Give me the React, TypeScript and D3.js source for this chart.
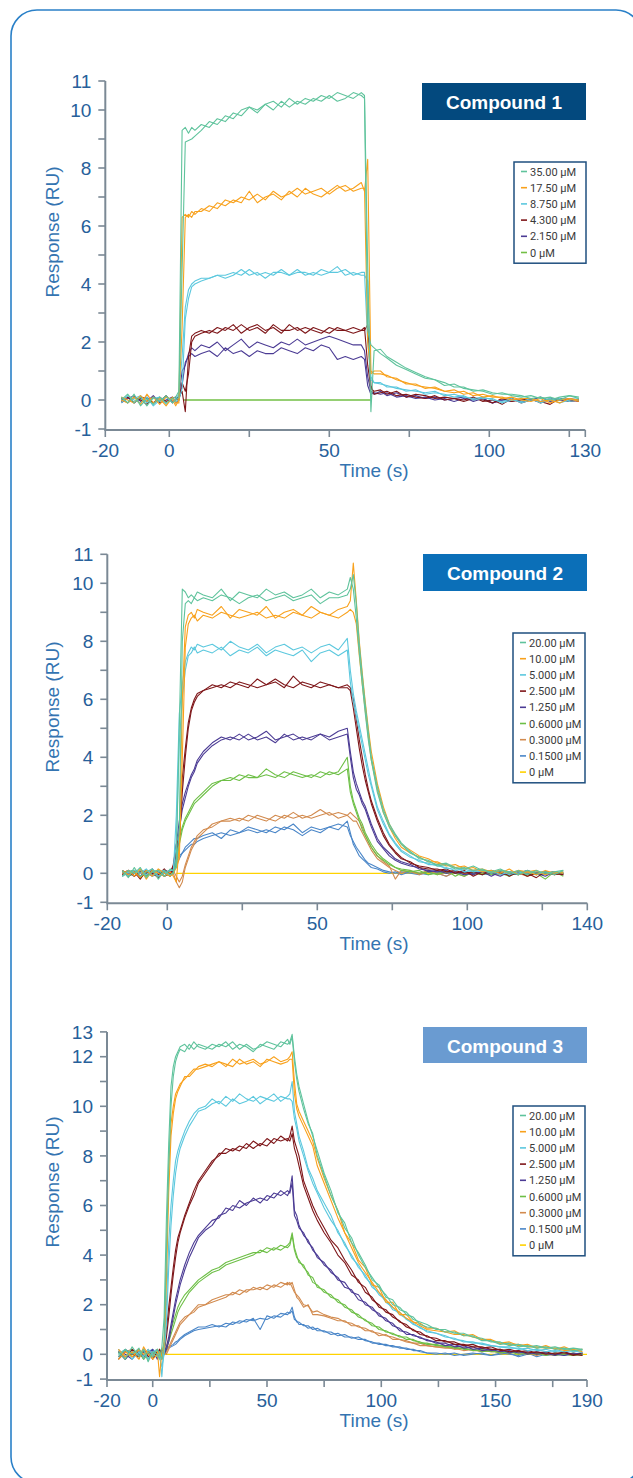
import React from "react";
import * as d3 from "d3";

// ---------- Compound 1 ----------
const time1 = [
  -15, -13, -11, -9, -7, -5, -3, -1, 1, 2,
  3, 4, 5, 6, 7, 8,
  10, 12.5, 15, 17.5, 20, 22.5, 25, 27.5, 30, 32.5, 35, 37.5, 40, 42.5, 45, 47.5, 50, 52.5, 55, 57.5, 60,
  61, 62, 63, 64,
  66, 68, 71, 74, 77, 80, 83, 86, 89, 92, 95, 98, 101, 104, 107, 110, 113, 116, 119, 122, 125, 128,
];
const resp1_35a = [
  0.1, -0.1, 0.2, -0.2, 0.05, -0.15, 0.1, -0.1, 0.05, 0.1,
  0.3, 9.3, 9.4, 9.2, 9.4, 9.3,
  9.5, 9.4, 9.7, 9.6, 9.9, 9.8, 10.1, 9.9, 10.2, 10.0, 10.3, 10.1, 10.3, 10.2, 10.4, 10.3, 10.5, 10.3, 10.4, 10.6, 10.5,
  10.4, 2.4, 1.9, 1.8,
  1.6, 1.45, 1.2, 1.05, 0.9, 0.75, 0.7, 0.5, 0.55, 0.4, 0.35, 0.3, 0.2, 0.25, 0.15, 0.1, 0.15, 0.05, 0.1, 0.0, 0.15, 0.05,
];
const resp1_35b = [
  0.0, 0.2, -0.1, 0.1, -0.2, 0.1, -0.05, 0.15, -0.1, 0.0,
  0.1, 4.5, 8.9, 8.95, 9.0, 9.1,
  9.3, 9.6, 9.5, 9.8, 9.7, 10.0, 10.1, 10.0, 10.2, 10.3, 10.1, 10.4, 10.2, 10.4, 10.3, 10.5, 10.4, 10.6, 10.5, 10.4, 10.6,
  10.5, 4.6, -0.4, 1.7,
  1.75, 1.5, 1.3, 1.1, 0.95, 0.8, 0.7, 0.6, 0.45, 0.45, 0.3, 0.35, 0.25, 0.2, 0.2, 0.15, 0.05, 0.1, 0.0, 0.1, 0.15, 0.1,
];
const resp1_17a = [
  0.0, -0.1, 0.1, -0.15, 0.2, -0.1, 0.05, -0.2, 0.1, -0.1,
  -0.1, 6.3, 6.4, 6.3, 6.5, 6.4,
  6.6, 6.5, 6.8, 6.7, 6.9, 6.8, 7.2, 6.8, 7.0, 7.1, 6.9, 7.2, 7.0, 7.3, 7.1, 7.0, 7.2, 7.4, 7.2, 7.3, 7.5,
  7.2, 8.3, 1.0, 0.9,
  0.9, 0.85, 0.7, 0.6, 0.5, 0.45, 0.4, 0.3, 0.35, 0.2, 0.25, 0.1, 0.15, 0.05, 0.1, 0.0, -0.05, 0.05, -0.1, 0.0, 0.05, -0.05,
];
const resp1_17b = [
  0.1, 0.0, -0.1, 0.15, -0.05, 0.1, -0.15, 0.1, 0.0, -0.2,
  0.0, 2.5, 6.3, 6.4, 6.3, 6.5,
  6.5, 6.7, 6.6, 6.9, 6.8, 7.0, 6.9, 7.1, 6.9, 7.2, 7.0, 7.1, 7.3, 7.1, 7.2, 7.3, 7.1, 7.3, 7.4, 7.2, 7.3,
  7.3, 2.0, 0.9, 1.0,
  1.0, 0.8, 0.75, 0.55, 0.55, 0.4, 0.45, 0.3, 0.25, 0.3, 0.15, 0.2, 0.1, 0.1, 0.0, 0.05, 0.05, -0.05, 0.0, -0.1, 0.05, 0.0,
];
const resp1_8a = [
  -0.1, 0.15, 0.0, -0.1, 0.1, -0.2, 0.0, 0.1, -0.1, 0.05,
  0.2, 1.5, 3.2, 3.8, 4.0, 4.1,
  4.2, 4.2, 4.3, 4.3, 4.4, 4.3, 4.5, 4.3, 4.4, 4.3, 4.5, 4.3, 4.4, 4.4, 4.3, 4.5, 4.4, 4.4, 4.5, 4.3, 4.4,
  4.4, 2.0, 0.7, 0.6,
  0.55, 0.5, 0.4, 0.35, 0.3, 0.25, 0.3, 0.15, 0.2, 0.1, 0.05, 0.1, 0.0, -0.05, 0.05, -0.1, 0.0, -0.05, 0.05, -0.1, 0.0, 0.05,
];
const resp1_8b = [
  0.1, -0.1, 0.05, 0.15, -0.1, 0.05, 0.1, -0.15, 0.05, -0.05,
  0.0, 0.4, 2.8, 3.5, 3.9, 4.0,
  4.1, 4.2, 4.3, 4.2, 4.3, 4.5, 4.3, 4.4, 4.2, 4.4, 4.4, 4.3, 4.5, 4.3, 4.4, 4.3, 4.4, 4.6, 4.3, 4.4, 4.3,
  4.3, 4.1, 0.8, 0.6,
  0.6, 0.45, 0.45, 0.3, 0.35, 0.2, 0.25, 0.2, 0.1, 0.15, 0.0, 0.05, 0.05, -0.1, 0.0, -0.05, 0.05, -0.1, 0.0, 0.05, -0.05, 0.0,
];
const resp1_4a = [
  0.05, -0.1, 0.1, 0.0, -0.15, 0.1, -0.05, 0.15, -0.1, 0.0,
  0.1, 0.3, -0.4, 1.5, 2.2, 2.3,
  2.4, 2.3, 2.5, 2.4, 2.6, 2.3, 2.5, 2.6, 2.4, 2.5, 2.3, 2.6, 2.4, 2.5, 2.4, 2.3, 2.5, 2.4, 2.4, 2.5, 2.4,
  2.5, 1.2, 0.4, 0.3,
  0.35, 0.2, 0.3, 0.1, 0.2, 0.15, 0.05, 0.1, 0.05, 0.0, 0.1, -0.05, 0.0, -0.15, 0.05, -0.1, 0.0, -0.05, -0.15, 0.05, -0.05, 0.0,
];
const resp1_4b = [
  -0.05, 0.1, -0.1, 0.1, 0.05, -0.1, 0.1, -0.05, 0.05, 0.1,
  0.0, 0.6, 0.3, 0.9, 2.0, 2.2,
  2.3, 2.4, 2.3, 2.5, 2.4, 2.6, 2.4, 2.5, 2.3, 2.6, 2.4, 2.4, 2.5, 2.3, 2.5, 2.4, 2.3, 2.5, 2.4, 2.3, 2.4,
  2.4, 2.6, 0.5, 0.2,
  0.25, 0.3, 0.15, 0.2, 0.1, 0.05, 0.15, 0.0, 0.05, -0.05, 0.05, 0.0, -0.1, 0.05, -0.05, 0.0, 0.05, -0.1, 0.0, 0.05, 0.0, -0.05,
];
const resp1_2a = [
  -0.1, 0.05, 0.15, -0.05, 0.1, -0.1, 0.0, 0.1, -0.05, 0.05,
  0.1, 1.0, 1.2, 1.6, 1.8, 1.7,
  1.9, 1.8, 2.0, 1.7, 1.9, 2.1, 1.8, 2.0, 1.9, 1.8, 2.0, 1.9, 2.1, 1.9, 2.0, 2.1, 2.2, 2.1, 2.0, 1.9, 1.9,
  1.7, 0.8, 0.3, 0.2,
  0.3, 0.15, 0.25, 0.1, 0.15, 0.05, 0.1, 0.0, 0.05, 0.1, -0.05, 0.05, -0.1, 0.0, 0.05, -0.05, 0.0, 0.1, -0.05, 0.0, 0.05, 0.0,
];
const resp1_2b = [
  0.0, 0.1, -0.1, 0.05, -0.05, 0.15, -0.1, 0.0, 0.1, -0.1,
  0.0, 0.5, 1.3, 1.5, 1.6, 1.5,
  1.6, 1.7, 1.5, 1.8, 1.6, 1.7, 1.5, 1.7, 1.6, 1.6, 1.8, 1.7, 1.6, 1.8, 1.7, 1.9, 1.8, 1.4, 1.5, 1.4, 1.5,
  1.4, 0.5, 0.2, 0.25,
  0.2, 0.25, 0.1, 0.15, 0.05, 0.1, 0.0, 0.05, -0.05, 0.05, 0.0, 0.05, -0.1, 0.0, -0.05, 0.05, 0.0, -0.05, 0.05, 0.0, -0.05, 0.0,
];
const zeroTime1 = [4.5, 63];

// ---------- Compound 2 ----------
const time2 = [
  -15, -13, -11, -9, -7, -5, -3, -1, 1,
  2, 3, 4, 5, 6, 7, 8, 9, 10,
  12, 15, 18, 21, 24, 27, 30, 33, 36, 39, 42, 45, 48, 51, 54, 57, 60,
  61, 62, 63, 64, 65, 66, 67, 68,
  70, 72, 74, 76, 78,
  81, 84, 87, 90, 93, 96, 99, 102, 105, 108, 111, 114, 117, 120, 123, 126, 129, 132,
];
const resp2_20a = [
  0.1, -0.15, 0.2, -0.1, 0.05, 0.15, -0.2, 0.1, -0.05,
  0.0, 0.5, 5.0, 9.8, 9.7, 9.5, 9.6, 9.5, 9.7,
  9.6, 9.5, 9.8, 9.4, 9.7, 9.6, 9.5, 9.8, 9.6, 9.7, 9.5, 9.6, 9.8, 9.5, 9.7, 9.6, 9.8,
  10.2, 9.8, 8.8, 7.6, 6.5, 5.5, 4.6, 3.9,
  2.8, 2.1, 1.6, 1.3, 1.0,
  0.7, 0.55, 0.4, 0.3, 0.35, 0.2, 0.15, 0.25, 0.1, 0.05, 0.15, 0.0, 0.1, -0.05, 0.1, 0.0, 0.05, 0.1,
];
const resp2_20b = [
  -0.1, 0.1, 0.0, 0.2, -0.15, 0.05, 0.1, -0.1, 0.15,
  0.1, 0.2, 1.5, 8.0, 9.3, 9.4, 9.3, 9.5, 9.4,
  9.5, 9.4, 9.6, 9.5, 9.3, 9.5, 9.6, 9.4, 9.5, 9.6, 9.4, 9.5, 9.6, 9.3, 9.5, 9.5, 9.6,
  9.8, 10.3, 9.3, 7.9, 6.8, 5.8, 4.9, 4.0,
  3.0, 2.2, 1.7, 1.35, 1.05,
  0.75, 0.5, 0.45, 0.25, 0.3, 0.15, 0.2, 0.1, 0.15, 0.0, 0.1, 0.05, -0.05, 0.1, 0.0, 0.05, -0.05, 0.1,
];
const resp2_10a = [
  0.0, 0.1, -0.1, 0.15, -0.2, 0.1, 0.0, -0.1, 0.05,
  -0.1, -0.3, 1.0, 6.0, 8.5, 8.9, 9.0, 8.8, 9.1,
  9.0, 8.9, 9.2, 8.8, 9.1, 9.0, 8.9, 9.2, 8.8, 9.0, 9.1, 8.9, 9.2, 9.0, 8.9, 9.1, 9.2,
  9.4, 10.7, 9.4, 8.0, 6.9, 5.9, 5.0, 4.2,
  3.1, 2.3, 1.7, 1.3, 1.0,
  0.8, 0.6, 0.5, 0.35, 0.3, 0.2, 0.25, 0.1, 0.15, 0.05, 0.1, 0.0, 0.1, 0.05, -0.05, 0.1, 0.0, 0.05,
];
const resp2_10b = [
  0.1, -0.05, 0.05, -0.15, 0.1, -0.1, 0.15, 0.0, -0.1,
  0.0, 0.2, 0.5, 4.0, 7.8, 8.6, 8.8, 8.9, 8.7,
  8.9, 8.8, 9.0, 8.9, 8.8, 8.9, 9.0, 8.8, 8.9, 8.8, 9.0, 8.9, 8.8, 9.0, 8.9, 8.8, 9.0,
  9.1, 9.0, 8.6, 7.5, 6.5, 5.6, 4.7, 3.9,
  2.9, 2.1, 1.6, 1.2, 0.9,
  0.7, 0.55, 0.4, 0.4, 0.25, 0.3, 0.15, 0.2, 0.05, 0.1, 0.0, 0.15, -0.05, 0.05, 0.1, -0.05, 0.05, 0.0,
];
const resp2_5a = [
  0.05, -0.1, 0.1, 0.0, 0.15, -0.1, 0.05, 0.1, -0.1,
  0.0, 2.0, 5.5, 6.5, 7.3, 7.6, 7.8, 7.7, 7.9,
  7.8, 7.9, 7.7, 8.0, 7.8, 7.7, 7.9, 7.6, 7.8, 7.9, 7.7, 7.8, 7.6, 7.8, 7.9, 7.7, 8.1,
  7.0, 6.2, 5.6, 5.1, 4.6, 4.1, 3.6, 3.1,
  2.3, 1.8, 1.35, 1.05, 0.8,
  0.6, 0.4, 0.35, 0.25, 0.2, 0.1, 0.15, 0.05, 0.1, 0.0, 0.1, -0.05, 0.05, 0.0, 0.1, -0.05, 0.05, 0.0,
];
const resp2_5b = [
  -0.1, 0.05, 0.0, 0.1, -0.05, 0.15, -0.1, 0.0, 0.1,
  0.1, 1.0, 4.5, 6.0, 7.0, 7.5, 7.6, 7.8, 7.6,
  7.7, 7.6, 7.8, 7.5, 7.7, 7.6, 7.8, 7.5, 7.7, 7.6, 7.5, 7.7, 7.3, 7.6, 7.7, 7.5, 7.7,
  6.6, 5.9, 5.4, 4.9, 4.4, 3.9, 3.4, 3.0,
  2.2, 1.7, 1.3, 1.0, 0.75,
  0.55, 0.45, 0.3, 0.3, 0.15, 0.2, 0.05, 0.1, 0.05, 0.1, -0.05, 0.05, 0.0, 0.1, -0.05, 0.05, 0.0, 0.05,
];
const resp2_2a = [
  0.1, -0.1, 0.05, -0.2, 0.1, 0.0, -0.15, 0.1, 0.0,
  0.3, 1.0, 1.2, 3.3, 4.3, 5.2, 5.7, 6.0, 6.2,
  6.3, 6.5, 6.4, 6.6, 6.5, 6.4, 6.7, 6.5, 6.6, 6.4, 6.8, 6.5, 6.4, 6.6, 6.5, 6.4, 6.5,
  6.4, 6.0, 5.3, 4.6, 4.0, 3.4, 2.9, 2.5,
  1.9, 1.4, 1.0, 0.75, 0.55,
  0.35, 0.25, 0.2, 0.1, 0.15, 0.0, 0.1, -0.1, 0.05, 0.0, 0.1, -0.1, 0.05, 0.0, -0.15, 0.05, 0.0, -0.05,
];
const resp2_2b = [
  -0.05, 0.1, -0.1, 0.05, 0.0, 0.1, -0.05, 0.15, -0.1,
  0.2, 0.8, 1.1, 2.8, 4.0, 5.0, 5.6, 5.9, 6.1,
  6.3, 6.4, 6.5, 6.4, 6.6, 6.5, 6.4, 6.5, 6.7, 6.5, 6.4, 6.6, 6.5, 6.4, 6.5, 6.4, 6.4,
  6.3, 5.7, 5.0, 4.3, 3.7, 3.2, 2.8, 2.4,
  1.8, 1.3, 0.95, 0.7, 0.5,
  0.4, 0.2, 0.15, 0.15, 0.05, 0.1, 0.0, 0.05, -0.05, 0.1, 0.0, -0.05, 0.05, -0.1, 0.0, 0.05, -0.05, 0.0,
];
const resp2_1a = [
  0.0, 0.1, -0.1, 0.1, -0.05, 0.15, -0.1, 0.0, 0.1,
  0.2, 1.0, 1.8, 2.4, 2.8, 3.1, 3.4, 3.6, 3.9,
  4.2, 4.5, 4.7, 4.6, 4.8, 4.6, 4.7, 4.9, 4.6, 4.7, 4.8, 4.6, 4.7, 4.8, 4.7, 4.9, 5.0,
  4.2, 3.5, 3.1, 2.8, 2.5, 2.3, 2.0, 1.7,
  1.2, 0.9, 0.7, 0.5, 0.4,
  0.3, 0.15, 0.1, 0.05, 0.1, 0.0, 0.05, -0.05, 0.1, 0.0, -0.1, 0.05, 0.0, 0.1, -0.05, 0.0, 0.05, -0.05,
];
const resp2_1b = [
  0.1, -0.05, 0.05, -0.1, 0.1, 0.0, 0.05, -0.1, 0.0,
  0.1, 0.7, 1.5, 2.2, 2.6, 3.0, 3.3, 3.5, 3.8,
  4.1, 4.4, 4.6, 4.7, 4.6, 4.8, 4.6, 4.7, 4.5, 4.8, 4.6, 4.7, 4.6, 4.8, 4.6, 4.7, 4.8,
  4.0, 3.3, 2.9, 2.7, 2.4, 2.2, 1.9, 1.6,
  1.1, 0.85, 0.6, 0.45, 0.35,
  0.25, 0.2, 0.05, 0.1, 0.0, 0.05, -0.05, 0.0, 0.05, -0.1, 0.05, 0.0, -0.05, 0.05, 0.0, -0.1, 0.05, 0.0,
];
const resp2_06a = [
  -0.1, 0.05, 0.1, -0.15, 0.0, 0.1, -0.05, 0.05, -0.1,
  0.1, 0.5, 1.2, 1.6, 1.9, 2.1, 2.3, 2.5, 2.6,
  2.8, 3.1, 3.2, 3.3, 3.2, 3.4, 3.3, 3.6, 3.4, 3.3, 3.5, 3.4, 3.3, 3.5, 3.4, 3.5, 4.0,
  3.0, 2.5, 2.2, 1.9, 1.7, 1.4, 1.2, 1.0,
  0.7, 0.5, 0.35, 0.2, 0.1,
  0.05, 0.1, -0.05, 0.0, 0.1, -0.1, 0.05, 0.0, -0.05, 0.1, 0.0, -0.1, 0.05, -0.05, 0.0, -0.2, 0.05, 0.0,
];
const resp2_06b = [
  0.05, -0.1, 0.0, 0.1, -0.1, 0.05, 0.1, -0.1, 0.0,
  0.0, 0.3, 1.0, 1.5, 1.8, 2.0, 2.2, 2.4, 2.5,
  2.7, 3.0, 3.2, 3.2, 3.4, 3.3, 3.3, 3.4, 3.3, 3.5, 3.4, 3.3, 3.4, 3.3, 3.5, 3.4, 3.6,
  2.8, 2.4, 2.1, 1.8, 1.5, 1.3, 1.1, 0.9,
  0.6, 0.45, 0.3, 0.2, 0.15,
  0.1, 0.0, 0.05, -0.05, 0.05, 0.0, -0.1, 0.05, 0.0, -0.05, 0.05, 0.0, -0.05, 0.1, -0.05, 0.0, 0.05, -0.1,
];
const resp2_03a = [
  0.1, -0.1, 0.05, 0.0, -0.1, 0.1, -0.05, 0.0, 0.1,
  0.0, -0.3, -0.5, -0.3, 0.2, 0.5, 0.8, 1.0, 1.2,
  1.4, 1.7, 1.8, 1.9, 1.8, 2.0, 1.9, 1.8, 2.0, 1.9, 2.1, 1.9, 2.0, 2.2, 2.0, 2.1, 2.0,
  2.1, 2.0, 1.9, 1.8, 1.6, 1.3, 1.1, 0.9,
  0.6, 0.4, 0.25, -0.2, 0.1,
  0.05, 0.0, 0.1, -0.05, 0.05, 0.0, -0.1, 0.05, 0.0, 0.1, -0.05, 0.0, 0.05, -0.1, 0.0, 0.05, -0.05, 0.0,
];
const resp2_03b = [
  0.0, 0.1, -0.1, 0.1, 0.05, -0.1, 0.1, -0.1, 0.0,
  0.1, -0.1, -0.3, -0.1, 0.3, 0.6, 0.9, 1.1, 1.3,
  1.5, 1.6, 1.8, 1.8, 1.9, 1.8, 2.0, 1.9, 1.8, 2.0, 1.9, 2.0, 1.9, 2.0, 2.1, 1.9, 2.0,
  1.9, 1.8, 1.8, 1.6, 1.4, 1.2, 1.0, 0.8,
  0.5, 0.35, 0.2, 0.1, 0.0,
  0.1, -0.05, 0.05, 0.0, -0.1, 0.05, 0.0, -0.05, 0.1, 0.0, -0.05, 0.05, 0.0, -0.1, 0.05, 0.0, 0.05, -0.05,
];
const resp2_015a = [
  0.05, 0.0, -0.1, 0.1, 0.0, -0.05, 0.1, 0.0, -0.1,
  0.1, 0.4, 0.6, 0.7, 0.9, 1.0, 1.1, 1.2, 1.2,
  1.3, 1.4, 1.2, 1.5, 1.4, 1.6, 1.5, 1.4, 1.6, 1.5, 1.7, 1.4, 1.6, 1.5, 1.6, 1.7, 1.6,
  1.3, 1.1, 0.9, 0.75, 0.6, 0.45, 0.35, 0.3,
  0.2, 0.1, 0.05, 0.0, 0.05,
  0.0, -0.05, 0.05, 0.0, -0.1, 0.05, 0.0, 0.05, -0.05, 0.0, 0.05, -0.05, 0.0, 0.1, 0.0, -0.05, 0.05, 0.0,
];
const resp2_015b = [
  -0.1, 0.05, 0.1, 0.0, 0.05, -0.1, 0.0, 0.1, 0.05,
  0.0, 0.3, 0.5, 0.7, 0.8, 0.9, 1.0, 1.0, 1.1,
  1.2, 1.3, 1.4, 1.3, 1.4, 1.5, 1.4, 1.5, 1.4, 1.6, 1.5, 1.3, 1.5, 1.4, 1.6, 1.5, 1.8,
  1.4, 1.0, 0.8, 0.6, 0.5, 0.4, 0.3, 0.2,
  0.15, 0.05, 0.0, 0.05, -0.05,
  0.05, 0.0, -0.05, 0.05, 0.0, 0.05, -0.05, 0.0, 0.05, 0.0, -0.05, 0.0, 0.05, -0.05, 0.0, 0.05, 0.0, -0.05,
];
const zeroTime2 = [3, 132];

// ---------- Compound 3 ----------
const time3 = [
  -15, -12, -9, -6, -4, -2, 0, 2, 3, 4,
  5, 6, 7, 8, 9, 10, 11, 12, 14, 16, 18, 20,
  23, 26, 29, 32, 35, 38, 41, 44, 47, 50, 53, 56, 59,
  60, 61, 62, 63, 64, 66, 68, 70, 72, 75,
  78, 81, 84, 87, 90, 93, 96, 99, 102, 105, 108, 111, 114, 117, 120,
  124, 128, 132, 136, 140, 144, 148, 152, 156, 160, 164, 168, 172, 176, 180, 184, 188,
];
const resp3_20a = [
  0.1, -0.2, 0.3, -0.1, 0.2, -0.3, 0.1, 0.0, -0.2, 0.3,
  1.5, 5.5, 8.5, 10.8, 11.6, 12.0, 12.2, 12.4, 12.5, 12.3, 12.6, 12.4,
  12.3, 12.5, 12.4, 12.6, 12.3, 12.5, 12.4, 12.2, 12.5, 12.4, 12.3, 12.6, 12.5,
  12.6, 12.9, 12.0, 11.3, 10.8, 10.1, 9.4, 8.8, 8.2, 7.3,
  6.6, 5.7, 5.3, 4.5, 4.1, 3.6, 3.0, 2.8, 2.3, 2.2, 1.8, 1.7, 1.4, 1.3, 1.2,
  1.0, 1.0, 0.85, 0.85, 0.7, 0.65, 0.5, 0.5, 0.35, 0.4, 0.3, 0.35, 0.25, 0.3, 0.2, 0.25, 0.2,
];
const resp3_20b = [
  -0.1, 0.2, 0.0, 0.25, -0.2, 0.1, -0.1, 0.2, 0.0, -0.2,
  0.5, 4.0, 7.5, 10.0, 11.2, 11.8, 12.1, 12.3, 12.2, 12.5, 12.3, 12.5,
  12.4, 12.3, 12.5, 12.4, 12.6, 12.3, 12.5, 12.3, 12.4, 12.6, 12.5, 12.4, 12.7,
  12.5, 12.8, 11.8, 11.1, 10.6, 9.9, 9.3, 8.9, 8.0, 7.2,
  6.4, 5.8, 5.1, 4.7, 4.0, 3.5, 3.1, 2.7, 2.4, 2.0, 1.9, 1.6, 1.5, 1.2, 1.1,
  1.05, 0.9, 0.9, 0.75, 0.75, 0.55, 0.55, 0.4, 0.45, 0.3, 0.35, 0.25, 0.3, 0.2, 0.25, 0.15, 0.2,
];
const resp3_10a = [
  0.2, -0.1, 0.1, -0.2, 0.3, 0.0, -0.1, 0.2, -0.9, 0.1,
  0.5, 4.0, 7.5, 9.3, 10.0, 10.5, 10.7, 10.9, 11.1, 11.3, 11.5, 11.5,
  11.6, 11.7, 11.8, 11.6, 11.9, 11.7, 11.8, 11.9, 11.7, 11.8, 12.0, 11.8, 11.9,
  12.0, 12.2, 11.0, 10.1, 9.8, 9.4, 9.0, 8.6, 7.9, 7.1,
  6.4, 5.8, 4.9, 4.5, 3.8, 3.5, 2.8, 2.7, 2.1, 2.1, 1.6, 1.6, 1.3, 1.25, 1.05,
  1.05, 0.9, 0.95, 0.75, 0.8, 0.6, 0.6, 0.45, 0.5, 0.35, 0.4, 0.25, 0.35, 0.2, 0.3, 0.15, 0.2,
];
const resp3_10b = [
  -0.2, 0.1, -0.1, 0.2, 0.0, 0.1, -0.2, 0.0, 0.1, -0.2,
  0.3, 3.0, 6.5, 8.8, 9.7, 10.3, 10.6, 10.8, 11.2, 11.2, 11.4, 11.6,
  11.7, 11.6, 11.8, 11.7, 11.6, 11.9, 11.7, 11.8, 11.6, 11.9, 11.8, 11.7, 11.8,
  11.9, 11.9, 10.5, 9.9, 9.6, 9.2, 8.8, 8.4, 7.6, 6.9,
  6.2, 5.5, 4.9, 4.3, 3.7, 3.3, 2.9, 2.5, 2.2, 1.9, 1.7, 1.45, 1.3, 1.15, 1.0,
  0.95, 0.9, 0.8, 0.8, 0.7, 0.6, 0.55, 0.45, 0.4, 0.4, 0.3, 0.3, 0.25, 0.25, 0.15, 0.2, 0.1,
];
const resp3_5a = [
  0.0, 0.2, -0.2, 0.1, -0.1, 0.2, 0.0, -0.1, 0.1, -0.9,
  0.3, 2.0, 4.5, 6.0, 7.0, 7.8, 8.2, 8.5, 9.0, 9.4, 9.7, 9.9,
  10.0, 10.3, 10.1, 10.4, 10.2, 10.5, 10.3, 10.2, 10.4, 10.3, 10.5, 10.2, 10.4,
  10.5, 11.0, 9.8, 9.3, 8.8, 8.2, 7.5, 7.1, 6.6, 6.1,
  5.6, 4.9, 4.5, 3.9, 3.6, 3.1, 2.8, 2.4, 2.2, 1.8, 1.7, 1.4, 1.25, 1.05, 0.95,
  0.85, 0.7, 0.65, 0.5, 0.5, 0.4, 0.35, 0.3, 0.3, 0.2, 0.25, 0.15, 0.2, 0.1, 0.2, 0.1, 0.15,
];
const resp3_5b = [
  0.2, -0.1, 0.1, 0.0, 0.2, -0.2, 0.1, 0.2, -0.1, -0.5,
  0.0, 1.2, 3.5, 5.2, 6.4, 7.3, 7.9, 8.3, 8.8, 9.2, 9.5, 9.8,
  9.9, 10.1, 10.2, 10.0, 10.3, 10.1, 10.2, 10.4, 10.1, 10.3, 10.2, 10.4, 10.3,
  10.3, 10.2, 9.5, 9.1, 8.6, 8.0, 7.4, 6.9, 6.5, 5.9,
  5.4, 5.0, 4.4, 4.0, 3.5, 3.2, 2.7, 2.5, 2.1, 1.9, 1.6, 1.45, 1.2, 1.1, 0.9,
  0.85, 0.75, 0.6, 0.55, 0.45, 0.45, 0.35, 0.3, 0.25, 0.25, 0.15, 0.2, 0.1, 0.15, 0.1, 0.15, 0.05,
];
const resp3_2a = [
  -0.2, 0.1, 0.0, -0.1, 0.2, -0.1, 0.1, 0.0, 0.2, -0.1,
  0.2, 1.0, 1.9, 2.7, 3.5, 4.2, 4.7, 5.0, 5.6, 6.1, 6.6, 7.0,
  7.4, 7.8, 8.0, 8.3, 8.2, 8.4, 8.3, 8.6, 8.4, 8.7, 8.5, 8.8, 8.6,
  8.8, 9.2, 8.6, 8.3, 8.0, 7.0, 6.5, 6.0, 5.6, 5.1,
  4.6, 4.3, 3.8, 3.4, 2.9, 2.7, 2.2, 2.0, 1.7, 1.6, 1.3, 1.2, 0.95, 0.9, 0.7,
  0.65, 0.5, 0.5, 0.35, 0.4, 0.25, 0.3, 0.15, 0.2, 0.1, 0.15, 0.05, 0.1, 0.0, 0.1, -0.05, 0.05,
];
const resp3_2b = [
  0.1, -0.2, 0.2, 0.0, -0.1, 0.1, -0.2, 0.1, -0.1, 0.2,
  0.1, 0.7, 1.5, 2.4, 3.2, 3.9, 4.5, 4.9, 5.5, 6.0, 6.4, 6.9,
  7.3, 7.7, 8.1, 8.1, 8.3, 8.2, 8.5, 8.3, 8.5, 8.4, 8.7, 8.6, 8.7,
  8.6, 8.9, 8.3, 8.0, 7.6, 6.8, 6.3, 5.8, 5.4, 4.9,
  4.5, 4.0, 3.7, 3.2, 3.0, 2.5, 2.3, 1.9, 1.8, 1.5, 1.35, 1.1, 1.0, 0.8, 0.75,
  0.55, 0.55, 0.4, 0.4, 0.3, 0.3, 0.2, 0.2, 0.1, 0.15, 0.05, 0.1, 0.0, 0.05, 0.05, 0.0, -0.05,
];
const resp3_1a = [
  0.1, 0.0, -0.2, 0.2, -0.1, 0.1, -0.1, 0.1, 0.0, 0.2,
  0.1, 0.3, 0.7, 1.2, 1.7, 2.2, 2.6, 3.0, 3.6, 4.1, 4.5, 4.8,
  5.1, 5.4, 5.5, 5.9, 5.8, 6.2, 6.0, 6.3, 6.1, 6.4, 6.3, 6.6, 6.4,
  6.6, 7.2, 5.8, 5.6, 5.2, 4.8, 4.6, 4.2, 4.0, 3.6,
  3.4, 3.0, 2.9, 2.5, 2.4, 2.0, 1.9, 1.55, 1.45, 1.15, 1.05, 0.8, 0.8, 0.65, 0.6,
  0.45, 0.45, 0.3, 0.35, 0.2, 0.25, 0.15, 0.2, 0.05, 0.15, 0.0, 0.1, 0.05, -0.05, 0.1, 0.0, 0.05,
];
const resp3_1b = [
  -0.1, 0.2, 0.0, -0.1, 0.1, 0.0, 0.2, -0.2, 0.1, 0.0,
  0.0, 0.2, 0.5, 1.0, 1.5, 2.0, 2.4, 2.8, 3.4, 3.9, 4.3, 4.7,
  5.0, 5.2, 5.6, 5.7, 6.0, 5.9, 6.1, 6.2, 6.3, 6.2, 6.5, 6.4, 6.6,
  6.5, 6.9, 5.6, 5.4, 5.1, 4.9, 4.5, 4.3, 3.9, 3.7,
  3.3, 3.1, 2.7, 2.6, 2.2, 2.1, 1.8, 1.65, 1.35, 1.25, 0.95, 0.9, 0.75, 0.7, 0.55,
  0.5, 0.35, 0.4, 0.25, 0.3, 0.15, 0.2, 0.1, 0.15, 0.05, 0.1, 0.0, 0.05, 0.0, -0.05, 0.05, 0.0,
];
const resp3_06a = [
  0.0, 0.2, -0.1, 0.1, -0.2, 0.1, 0.0, -0.1, 0.2, 0.0,
  0.1, 0.3, 0.6, 1.0, 1.3, 1.6, 1.9, 2.1, 2.4, 2.6, 2.8, 3.0,
  3.2, 3.4, 3.5, 3.7, 3.8, 3.9, 4.0, 4.1, 4.1, 4.3, 4.2, 4.4, 4.3,
  4.4, 4.8, 4.2, 3.9, 3.8, 3.5, 3.3, 2.9, 2.8, 2.5,
  2.4, 2.1, 2.0, 1.7, 1.6, 1.35, 1.25, 1.0, 0.95, 0.8, 0.75, 0.6, 0.6, 0.45, 0.45,
  0.35, 0.35, 0.25, 0.25, 0.15, 0.2, 0.1, 0.1, 0.05, 0.1, 0.0, 0.05, -0.05, 0.05, 0.0, -0.05, 0.0,
];
const resp3_06b = [
  0.1, -0.1, 0.2, 0.0, 0.1, -0.2, 0.1, 0.0, -0.1, 0.1,
  0.0, 0.2, 0.5, 0.8, 1.1, 1.4, 1.7, 1.9, 2.2, 2.5, 2.7, 2.9,
  3.1, 3.3, 3.4, 3.6, 3.7, 3.8, 3.9, 4.0, 4.2, 4.1, 4.3, 4.2, 4.4,
  4.5, 4.9, 4.3, 4.0, 3.7, 3.6, 3.2, 3.1, 2.7, 2.6,
  2.3, 2.2, 1.9, 1.8, 1.5, 1.4, 1.15, 1.1, 0.9, 0.85, 0.7, 0.7, 0.55, 0.5, 0.4,
  0.4, 0.3, 0.3, 0.2, 0.2, 0.1, 0.15, 0.05, 0.1, 0.0, 0.05, 0.0, 0.05, -0.05, 0.0, 0.05, -0.05,
];
const resp3_03a = [
  0.2, -0.1, 0.0, 0.1, -0.2, 0.0, 0.1, -0.1, 0.0, 0.1,
  0.0, 0.1, 0.3, 0.5, 0.7, 0.9, 1.1, 1.3, 1.5, 1.6, 1.8, 2.0,
  2.0, 2.2, 2.3, 2.4, 2.4, 2.6, 2.5, 2.7, 2.6, 2.8, 2.7, 2.9, 2.8,
  2.9, 2.7, 2.5, 2.4, 2.3, 2.0, 1.95, 1.7, 1.75, 1.6,
  1.5, 1.45, 1.3, 1.25, 1.1, 1.05, 0.9, 0.85, 0.75, 0.7, 0.6, 0.55, 0.45, 0.45, 0.35,
  0.3, 0.3, 0.2, 0.25, 0.15, 0.15, 0.1, 0.1, 0.05, 0.1, 0.0, 0.05, 0.0, -0.05, 0.05, 0.0, -0.05,
];
const resp3_03b = [
  -0.1, 0.1, 0.2, -0.1, 0.0, 0.2, -0.1, 0.0, 0.2, -0.2,
  0.1, 0.0, 0.2, 0.4, 0.6, 0.8, 1.0, 1.2, 1.4, 1.6, 1.7, 1.9,
  2.0, 2.1, 2.2, 2.3, 2.5, 2.4, 2.6, 2.6, 2.7, 2.6, 2.8, 2.7, 2.9,
  2.8, 2.9, 2.6, 2.3, 2.2, 1.9, 2.0, 1.6, 1.6, 1.55,
  1.45, 1.35, 1.35, 1.15, 1.15, 0.95, 0.95, 0.75, 0.8, 0.6, 0.6, 0.5, 0.45, 0.35, 0.35,
  0.3, 0.25, 0.25, 0.15, 0.2, 0.1, 0.15, 0.05, 0.1, 0.05, 0.05, -0.05, 0.05, 0.0, 0.0, -0.05, 0.05,
];
const resp3_015a = [
  0.1, -0.2, 0.1, 0.0, 0.2, -0.1, 0.0, 0.2, -0.1, 0.0,
  0.1, 0.25, 0.3, 0.35, 0.4, 0.5, 0.55, 0.65, 0.8, 0.9, 1.0, 1.1,
  1.1, 1.2, 1.1, 1.25, 1.2, 1.35, 1.3, 1.45, 1.0, 1.55, 1.45, 1.65, 1.6,
  1.7, 1.9, 1.5, 1.3, 1.3, 1.15, 1.15, 1.0, 1.05, 0.9,
  0.9, 0.75, 0.8, 0.65, 0.7, 0.55, 0.5, 0.4, 0.4, 0.3, 0.3, 0.2, 0.2, 0.1, 0.05,
  0.05, 0.0, 0.05, -0.05, 0.0, 0.05, -0.05, 0.0, 0.05, -0.1, 0.0, 0.05, -0.05, 0.0, 0.05, -0.05, 0.0,
];
const resp3_015b = [
  -0.1, 0.1, 0.0, 0.2, -0.1, 0.1, 0.2, -0.1, 0.1, -0.2,
  0.0, 0.2, 0.25, 0.3, 0.35, 0.4, 0.5, 0.6, 0.75, 0.85, 0.95, 1.0,
  1.05, 1.1, 1.15, 1.1, 1.3, 1.25, 1.4, 1.35, 1.45, 1.4, 1.55, 1.5, 1.7,
  1.65, 1.75, 1.4, 1.35, 1.2, 1.2, 1.05, 1.1, 0.95, 0.95,
  0.8, 0.85, 0.7, 0.7, 0.6, 0.6, 0.45, 0.45, 0.35, 0.35, 0.25, 0.25, 0.15, 0.15, 0.05,
  0.0, 0.05, -0.05, 0.0, 0.05, 0.0, -0.05, 0.05, 0.0, -0.05, 0.05, -0.1, 0.0, 0.05, -0.05, 0.0, 0.05,
];
const zeroTime3 = [5, 190];
const zeroResp = [0, 0];

// legend labels and colours
const labels1 = ["35.00 µM", "17.50 µM", "8.750 µM", "4.300 µM", "2.150 µM", "0 µM"];
const labels23 = ["20.00 µM", "10.00 µM", "5.000 µM", "2.500 µM", "1.250 µM", "0.6000 µM", "0.3000 µM", "0.1500 µM", "0 µM"];
const colors1 = ["#5fc39c", "#f8a11c", "#5cc8de", "#7e1619", "#4b3b94", "#72bf45"];
const colors23 = ["#5fc39c", "#f8a11c", "#5cc8de", "#7e1619", "#4b3b94", "#6dbf46", "#d28b4f", "#4a86c8", "#ffd200"];

const reps1 = [
  [resp1_35a, resp1_35b], [resp1_17a, resp1_17b], [resp1_8a, resp1_8b],
  [resp1_4a, resp1_4b], [resp1_2a, resp1_2b],
];
const reps2 = [
  [resp2_20a, resp2_20b], [resp2_10a, resp2_10b], [resp2_5a, resp2_5b], [resp2_2a, resp2_2b],
  [resp2_1a, resp2_1b], [resp2_06a, resp2_06b], [resp2_03a, resp2_03b], [resp2_015a, resp2_015b],
];
const reps3 = [
  [resp3_20a, resp3_20b], [resp3_10a, resp3_10b], [resp3_5a, resp3_5b], [resp3_2a, resp3_2b],
  [resp3_1a, resp3_1b], [resp3_06a, resp3_06b], [resp3_03a, resp3_03b], [resp3_015a, resp3_015b],
];

const panels = [
  {
    title: "Compound 1", badgeFill: "#03497e",
    time: time1, reps: reps1, zeroTime: zeroTime1, labels: labels1, colors: colors1,
    xDomain: [-20, 130], xRange: [105.3, 585.3], yDomain: [-1, 11], yRange: [429, 81],
    xTicks: [-20, 0, 25, 50, 75, 100, 125, 130], xLabels: [-20, 0, 50, 100, 130],
    yLabels: [-1, 0, 2, 4, 6, 8, 10, 11],
    yTitleY: 232, xTitleY: 477,
    badge: { x: 422, y: 83, w: 164, h: 37 },
    legend: { x: 514, y: 162, w: 72 },
  },
  {
    title: "Compound 2", badgeFill: "#0b6fb8",
    time: time2, reps: reps2, zeroTime: zeroTime2, labels: labels23, colors: colors23,
    xDomain: [-20, 140], xRange: [107.3, 587.3], yDomain: [-1, 11], yRange: [902.3, 554.3],
    xTicks: [-20, 0, 25, 50, 75, 100, 125, 140], xLabels: [-20, 0, 50, 100, 140],
    yLabels: [-1, 0, 2, 4, 6, 8, 10, 11],
    yTitleY: 707, xTitleY: 950,
    badge: { x: 423, y: 554, w: 164, h: 37 },
    legend: { x: 513, y: 633, w: 72 },
  },
  {
    title: "Compound 3", badgeFill: "#6a9bd1",
    time: time3, reps: reps3, zeroTime: zeroTime3, labels: labels23, colors: colors23,
    xDomain: [-20, 190], xRange: [107, 587], yDomain: [-1, 13], yRange: [1379.1, 1031.9],
    xTicks: [-20, 0, 25, 50, 75, 100, 125, 150, 175, 190], xLabels: [-20, 0, 50, 100, 150, 190],
    yLabels: [-1, 0, 2, 4, 6, 8, 10, 12, 13],
    yTitleY: 1182, xTitleY: 1427,
    badge: { x: 423, y: 1027, w: 164, h: 36 },
    legend: { x: 513, y: 1106, w: 72 },
  },
];

const FONT = "'Liberation Sans', Arial, sans-serif";
const AXIS = "#7b8995";
const TICK_TEXT = "#27609a";
const TITLE_TEXT = "#3474b1";

function Panel({ p }: { p: any }) {
  const x = d3.scaleLinear().domain(p.xDomain).range(p.xRange);
  const y = d3.scaleLinear().domain(p.yDomain).range(p.yRange);
  const trace = d3.line<number>()
    .defined((_, i) => i < p.time.length)
    .x((_, i) => x(p.time[i]))
    .y((d) => y(d));
  const zero = d3.line<number>().x((_, i) => x(p.zeroTime[i])).y((d) => y(d));
  const x0 = p.xRange[0];
  const y0 = y(p.yDomain[0]);
  const yTicks = d3.range(p.yDomain[0], p.yDomain[1] + 1);
  const n = p.labels.length;
  const rowH = 16.2;
  const legH = n * rowH + 4;

  return (
    <g>
      {/* 0 µM reference line */}
      <path d={zero(zeroResp) || ""} fill="none" stroke={p.colors[n - 1]} strokeWidth={1.3} />
      {p.reps.slice().reverse().map((pair: number[][], k: number) => {
        const ci = p.reps.length - 1 - k;
        return pair.map((r, j) => (
          <path key={ci + "-" + j} d={trace(r) || ""} fill="none" stroke={p.colors[ci]}
            strokeWidth={1.1} strokeLinejoin="round" />
        ));
      })}

      {/* y axis */}
      <line x1={x0} x2={x0} y1={y(p.yDomain[1])} y2={y0 + 1} stroke={AXIS} strokeWidth={2} />
      {yTicks.map((t: number) => (
        <g key={"y" + t}>
          <line x1={x0 - 7} x2={x0} y1={y(t)} y2={y(t)} stroke={AXIS} strokeWidth={1.6} />
          {p.yLabels.includes(t) && (
            <text x={x0 - 14} y={y(t)} dy="0.35em" textAnchor="end" fontSize={19}
              fill={TICK_TEXT} fontFamily={FONT}>{t}</text>
          )}
        </g>
      ))}
      <text transform={`translate(59,${p.yTitleY}) rotate(-90)`} textAnchor="middle"
        fontSize={19} fill={TITLE_TEXT} fontFamily={FONT}>Response (RU)</text>

      {/* x axis */}
      <line x1={x0 - 1} x2={p.xRange[1]} y1={y0 + 1} y2={y0 + 1} stroke={AXIS} strokeWidth={2} />
      {p.xTicks.map((t: number) => (
        <g key={"x" + t}>
          <line x1={x(t)} x2={x(t)} y1={y0 + 1} y2={y0 + 8} stroke={AXIS} strokeWidth={1.6} />
          {p.xLabels.includes(t) && (
            <text x={x(t)} y={y0 + 28} textAnchor="middle" fontSize={19}
              fill={TICK_TEXT} fontFamily={FONT}>{t}</text>
          )}
        </g>
      ))}
      <text x={374} y={p.xTitleY} textAnchor="middle" fontSize={19} fill={TITLE_TEXT}
        fontFamily={FONT}>Time (s)</text>

      {/* title badge */}
      <rect x={p.badge.x} y={p.badge.y} width={p.badge.w} height={p.badge.h} fill={p.badgeFill} />
      <text x={p.badge.x + p.badge.w / 2} y={p.badge.y + 26} textAnchor="middle" fontSize={19}
        fontWeight="bold" fill="#ffffff" fontFamily={FONT}>{p.title}</text>

      {/* legend */}
      <rect x={p.legend.x} y={p.legend.y} width={p.legend.w} height={legH} fill="#ffffff"
        stroke="#1f4f7f" strokeWidth={1.5} />
      {p.labels.map((lab: string, i: number) => {
        const cy = p.legend.y + 9.5 + i * rowH;
        return (
          <g key={lab}>
            <line x1={p.legend.x + 7} x2={p.legend.x + 13} y1={cy} y2={cy} stroke={p.colors[i]} strokeWidth={1.6} />
            <text x={p.legend.x + 16} y={cy + 4} fontSize={11} fill="#3a3a3a"
              fontFamily="Roboto, 'Liberation Sans', sans-serif">{lab}</text>
          </g>
        );
      })}
    </g>
  );
}

export default function App() {
  return (
    <svg width={633} height={1478} viewBox="0 0 633 1478"
      style={{ position: "absolute", left: 0, top: 0, background: "#ffffff" }}>
      <rect x={11} y={10} width={631} height={1473} rx={26} ry={26} fill="none"
        stroke="#2a80c8" strokeWidth={1.6} />
      {panels.map((p) => (
        <Panel key={p.title} p={p} />
      ))}
    </svg>
  );
}
